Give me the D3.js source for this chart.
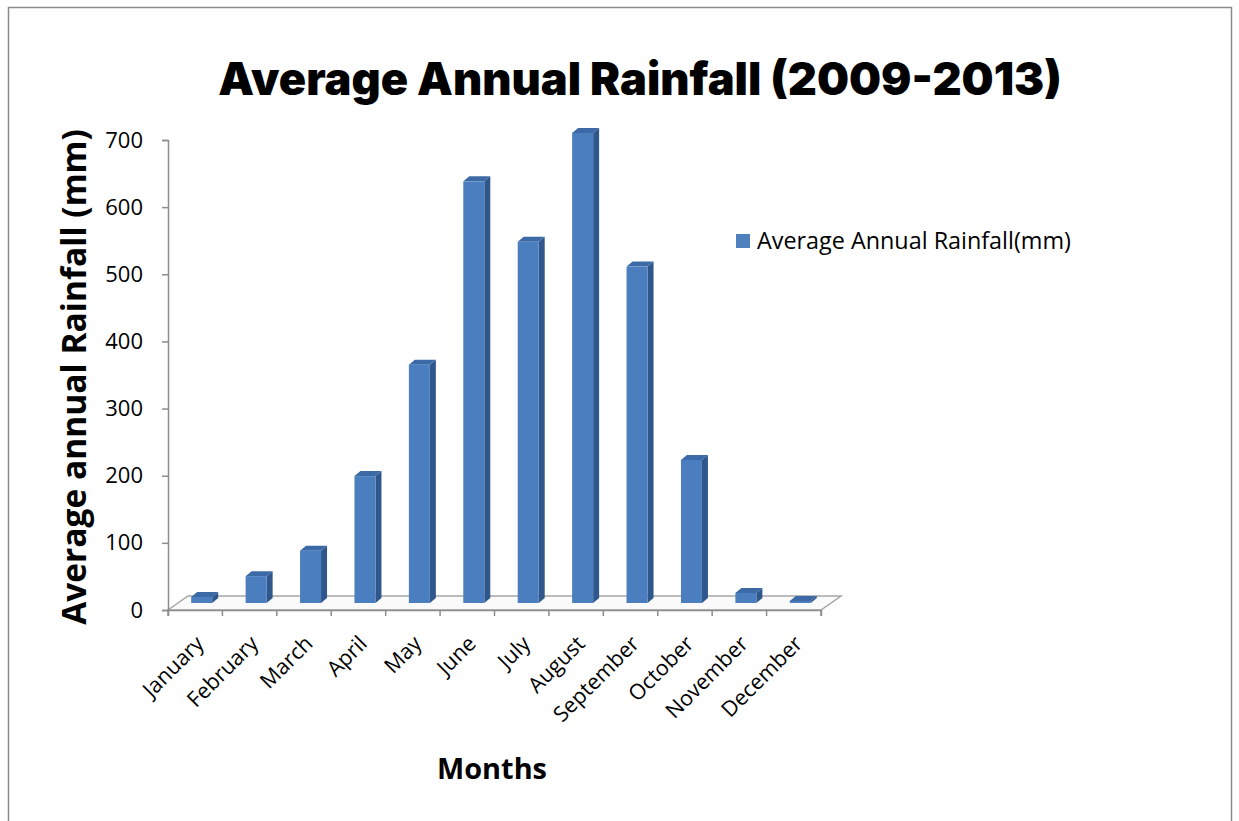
<!DOCTYPE html>
<html><head><meta charset="utf-8">
<script src="https://cdn.jsdelivr.net/npm/d3@7"></script>
<style>body{margin:0;background:#fff}svg{display:block}</style>
</head><body>
<script>
const months = ["January","February","March","April","May","June","July","August","September","October","November","December"];
const rainfall = [9, 40, 78, 189, 355, 628, 538, 700, 501, 213, 15, 3];
const yTicks = [0,100,200,300,400,500,600,700];
const titleText = "Average Annual Rainfall (2009-2013)";
const yTitle = "Average annual Rainfall (mm)";
const xTitle = "Months";
const seriesName = "Average Annual Rainfall(mm)";

const W = 1239, H = 821;
const svg = d3.select("body").append("svg").attr("width", W).attr("height", H);

// frame
svg.append("rect").attr("x",8.5).attr("y",7.5).attr("width",1223).attr("height",830)
  .attr("fill","#fff").attr("stroke","#8a8a8a").attr("stroke-width",1.5);

const x = d3.scaleBand().domain(months).range([168, 821]);
const y = d3.scaleLinear().domain([0,700]).range([610, 140]);

function fit(sel, target){
  const n = sel.node(); const w = n.getComputedTextLength();
  const fs = parseFloat(sel.attr("font-size"));
  sel.attr("font-size", fs*target/w);
}

// title
const t = svg.append("text").attr("x", 640).attr("y", 95).attr("text-anchor","middle")
  .attr("font-family","Inter").attr("font-weight",900).attr("font-size",44).attr("fill","#000")
  .text(titleText);
fit(t, 844);

// floor
const depthX = 20, depthY = -14;
const floor = [[168,610],[168+depthX,610+depthY],[821+depthX,610+depthY],[821,610]];
svg.append("path").attr("d", d3.line()(floor)+"Z").attr("fill","#fafafa").attr("stroke","#a6a6a6").attr("stroke-width",1.5);

// y axis
const ya = svg.append("g").attr("transform","translate(168,0)")
  .call(d3.axisLeft(y).tickValues(yTicks).tickSize(6).tickPadding(19));
ya.select(".domain").attr("stroke","#8c8c8c").attr("stroke-width",1.5);
ya.selectAll(".tick line").attr("stroke","#8c8c8c").attr("stroke-width",1.5);
ya.selectAll("text").attr("font-family","Open Sans").attr("font-size",22).attr("fill","#000");

// x axis
const xa = svg.append("g").attr("transform","translate(0,610)")
  .call(d3.axisBottom(x).tickSize(6).tickFormat(""));
xa.select(".domain").attr("stroke","#8c8c8c").attr("stroke-width",1.5);
xa.selectAll(".tick line").attr("stroke","#8c8c8c").attr("stroke-width",1.5)
  .attr("transform", d => `translate(${-x.bandwidth()/2},0)`);
svg.append("line").attr("x1",821).attr("x2",821).attr("y1",610).attr("y2",616).attr("stroke","#8c8c8c").attr("stroke-width",1.5);

// labels
svg.append("g").selectAll("text").data(months).join("text")
  .attr("transform", d => `translate(${x(d)+x.bandwidth()/2+10},${645}) rotate(-45)`)
  .attr("text-anchor","end").attr("font-family","Open Sans").attr("font-size",21.5).attr("fill","#000")
  .text(d => d);

// bars (3D)
const dx = 6, dy = -5, base = 603, fw = 21;
const yb = v => base - (y(0) - y(v));
const g = svg.append("g");
months.forEach((m,i) => {
  const v = rainfall[i];
  const x0 = x(m) + x.bandwidth()/2 - 4;
  const top = yb(v);
  const side = [[x0+fw,top],[x0+fw+dx,top+dy],[x0+fw+dx,base+dy],[x0+fw,base]];
  const topF = [[x0,top],[x0+dx,top+dy],[x0+fw+dx,top+dy],[x0+fw,top]];
  g.append("path").attr("d", d3.line()(side)+"Z").attr("fill","#2f578c");
  g.append("path").attr("d", d3.line()(topF)+"Z").attr("fill","#3c6aa6");
  g.append("rect").attr("x",x0).attr("y",top).attr("width",fw).attr("height",base-top).attr("fill","#4a7ebf");
});

// y title
const yt = svg.append("text").attr("transform","translate(86,377) rotate(-90)").attr("text-anchor","middle")
  .attr("font-family","Open Sans").attr("font-weight",700).attr("font-size",26).attr("fill","#000").text(yTitle);
fit(yt, 496);

// x title
const xt = svg.append("text").attr("x",492).attr("y",779).attr("text-anchor","middle")
  .attr("font-family","Open Sans").attr("font-weight",700).attr("font-size",27).attr("fill","#000").text(xTitle);
fit(xt, 110);

// legend
svg.append("rect").attr("x",736).attr("y",234).attr("width",14).attr("height",14).attr("fill","#4f81bd");
const lt = svg.append("text").attr("x",757).attr("y",249).attr("font-family","Open Sans").attr("font-size",20).attr("fill","#000").text(seriesName);
fit(lt, 314);
</script>
</body></html>
